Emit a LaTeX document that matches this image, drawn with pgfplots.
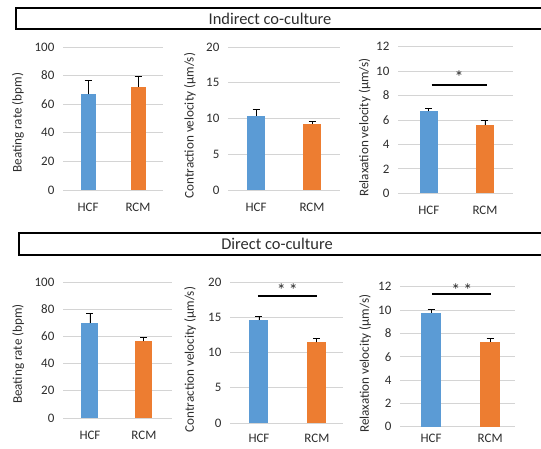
\documentclass[border=0pt]{standalone}
\usepackage{pgfplots}
\pgfplotsset{compat=1.18}
\usepackage{fontspec}
\setmainfont{Carlito}
\definecolor{hcf}{RGB}{91,155,213}
\definecolor{rcm}{RGB}{237,125,49}
\definecolor{txt}{RGB}{45,45,45}
\tikzset{sigstar/.style={font=\fontsize{18}{18}\selectfont, text=txt, anchor=center}}
\pgfplotsset{
  panel/.style={
    scale only axis, anchor=south west,
    axis lines=left, axis line style={draw=none}, tick style={draw=none},
    ymajorgrids, grid style={draw=black!17, line width=0.8bp},
    ymin=0, xtick={0,1}, xticklabels={HCF,RCM},
    ticklabel style={font=\fontsize{13}{14}\selectfont, text=txt},
    /pgf/number format/assume math mode=true,
    yticklabel style={xshift=-3bp},
    xticklabel style={yshift=-5bp},
    ylabel style={font=\fontsize{13.2}{15}\selectfont, text=txt, anchor=center},
    clip=false, enlargelimits=false, ybar, bar shift=0pt,
  },
  eb/.style={error bars/.cd, y dir=plus, y explicit,
    error bar style={black, line width=0.9bp},
    error mark options={rotate=90, mark size=3.5bp, line width=0.9bp, black}},
}
\begin{document}
\begin{tikzpicture}[x=1bp,y=1bp]
\useasboundingbox (0,0) rectangle (541,449);
% title boxes
\draw[line width=1.5bp] (16,420) rectangle (570,441);
\node[font=\fontsize{16.5}{18}\selectfont, text=txt] at (270,430.5) {Indirect co-culture};
\draw[line width=1.5bp] (19,194) rectangle (570,216);
\node[font=\fontsize{16.5}{18}\selectfont, text=txt] at (277,205) {Direct co-culture};

% ---- Top row ----
\begin{axis}[panel, at={(63bp,259bp)}, width=100bp, height=143bp,
  xmin=-0.5, xmax=1.5, ymax=100, ytick={0,20,...,100},
  ylabel={Beating rate (bpm)}, ylabel style={at={(axis description cs:-0.45,0.47)}},
  bar width=15bp]
\addplot[fill=hcf, draw=none, eb] coordinates {(0,66.8) +- (0,9.5)};
\addplot[fill=rcm, draw=none, eb] coordinates {(1,72.3) +- (0,7.2)};
\end{axis}

\begin{axis}[panel, at={(228bp,259bp)}, width=112bp, height=143bp,
  xmin=-0.5, xmax=1.5, ymax=20, ytick={0,5,...,20},
  ylabel={Contraction velocity (µm/s)}, ylabel style={at={(axis description cs:-0.34,0.45)}},
  bar width=18bp]
\addplot[fill=hcf, draw=none, eb] coordinates {(0,10.4) +- (0,0.8)};
\addplot[fill=rcm, draw=none, eb] coordinates {(1,9.2) +- (0,0.33)};
\end{axis}

\begin{axis}[panel, at={(398bp,255.7bp)}, width=115bp, height=146.6bp,
  xmin=-0.55, xmax=1.5, ymax=12, ytick={0,2,...,12},
  ylabel={Relaxation velocity (µm/s)}, ylabel style={at={(axis description cs:-0.29,0.45)}},
  bar width=18bp]
\addplot[fill=hcf, draw=none, eb] coordinates {(0,6.7) +- (0,0.28)};
\addplot[fill=rcm, draw=none, eb] coordinates {(1,5.55) +- (0,0.38)};
\draw[line width=1.6bp] (axis cs:0.05,8.86) -- (axis cs:1.03,8.86);
\node[sigstar] at (axis cs:0.54,9.5) {*};
\end{axis}

% ---- Bottom row ----
\begin{axis}[panel, at={(63bp,31bp)}, width=109bp, height=136bp,
  xmin=-0.5, xmax=1.52, ymax=100, ytick={0,20,...,100},
  ylabel={Beating rate (bpm)}, ylabel style={at={(axis description cs:-0.41,0.47)}},
  bar width=17bp]
\addplot[fill=hcf, draw=none, eb] coordinates {(0,69.5) +- (0,7.3)};
\addplot[fill=rcm, draw=none, eb] coordinates {(1,56.3) +- (0,2.9)};
\end{axis}

\begin{axis}[panel, at={(230bp,26bp)}, width=113bp, height=141bp,
  xmin=-0.5, xmax=1.45, ymax=20, ytick={0,5,...,20},
  ylabel={Contraction velocity (µm/s)}, ylabel style={at={(axis description cs:-0.354,0.45)}},
  bar width=19bp, xticklabel style={yshift=2bp}]
\addplot[fill=hcf, draw=none, eb] coordinates {(0,14.6) +- (0,0.46)};
\addplot[fill=rcm, draw=none, eb] coordinates {(1,11.43) +- (0,0.57)};
\draw[line width=1.6bp] (axis cs:-0.02,18.0) -- (axis cs:1.0,18.0);
\node[sigstar] at (axis cs:0.49,18.85) {*\,*};
\end{axis}

\begin{axis}[panel, at={(400bp,22.3bp)}, width=115bp, height=140bp,
  xmin=-0.525, xmax=1.42, ymax=12, ytick={0,2,...,12},
  ylabel={Relaxation velocity (µm/s)}, ylabel style={at={(axis description cs:-0.304,0.45)}},
  bar width=20bp, xticklabel style={yshift=5bp}]
\addplot[fill=hcf, draw=none, eb] coordinates {(0,9.75) +- (0,0.3)};
\addplot[fill=rcm, draw=none, eb] coordinates {(1,7.3) +- (0,0.25)};
\draw[line width=1.6bp] (axis cs:0.02,11.37) -- (axis cs:1.02,11.37);
\node[sigstar] at (axis cs:0.52,11.7) {*\,*};
\end{axis}
\end{tikzpicture}
\end{document}
